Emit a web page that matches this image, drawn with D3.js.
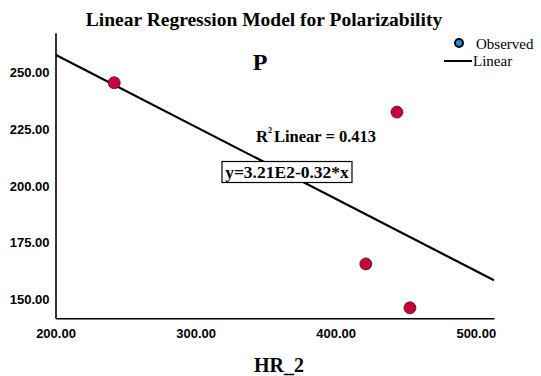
<!DOCTYPE html>
<html>
<head>
<meta charset="utf-8">
<script src="https://cdn.jsdelivr.net/npm/d3@7"></script>
<style>
  body { margin: 0; background: #fff; }
  svg { display: block; }
</style>
</head>
<body>
<div id="chart"></div>
<script>
// observed values (HR_2 vs P)
var hrValues = [241.9, 443.7, 421.5, 453.0];
var pValues = [245.3, 232.4, 165.7, 146.4];
var xTicks = [200, 300, 400, 500];
var yTicks = [150, 175, 200, 225, 250];
var rSquared = "0.413";
var equation = "y=3.21E2-0.32*x";

var width = 541, height = 376;
var svg = d3.select('#chart').append('svg')
    .attr('width', width)
    .attr('height', height);

var x = d3.scaleLinear().domain([200, 513]).range([55.5, 494]);
var y = d3.scaleLinear().domain([141.8, 267.3]).range([318.3, 32.7]);

// least squares fit, like spss does
var mx = d3.mean(hrValues), my = d3.mean(pValues);
var sxy = 0, sxx = 0;
for (var i = 0; i < hrValues.length; i++) {
    sxy += (hrValues[i] - mx) * (pValues[i] - my);
    sxx += (hrValues[i] - mx) * (hrValues[i] - mx);
}
var slope = sxy / sxx;
var intercept = my - slope * mx;

var serif = '"Liberation Serif", "Times New Roman", serif';

// title
svg.append('text')
    .attr('x', 264).attr('y', 26)
    .attr('text-anchor', 'middle')
    .style('font-family', serif)
    .style('font-weight', 'bold')
    .style('font-size', '19.5px')
    .text('Linear Regression Model for Polarizability');

// axes
var xAxis = d3.axisBottom(x).tickValues(xTicks).tickSize(0).tickPadding(10)
    .tickFormat(d3.format('.2f'));
var yAxis = d3.axisLeft(y).tickValues(yTicks).tickSize(0).tickPadding(6)
    .tickFormat(d3.format('.2f'));

var gx = svg.append('g').attr('transform', 'translate(0,' + y.range()[0] + ')').call(xAxis);
var gy = svg.append('g').attr('transform', 'translate(' + x.range()[0] + ',0)').call(yAxis);

[gx, gy].forEach(function(g){
    g.select('.domain').attr('stroke', '#000').attr('stroke-width', 1.6);
    g.selectAll('text')
        .style('font-family', '"Liberation Sans", Arial, sans-serif')
        .style('font-weight', 'bold')
        .style('font-size', '13px')
        .attr('fill', '#000');
});

// clip for fit line
svg.append('clipPath').attr('id', 'plot')
    .append('rect')
    .attr('x', x.range()[0]).attr('y', y.range()[1])
    .attr('width', x.range()[1] - x.range()[0])
    .attr('height', y.range()[0] - y.range()[1]);

var xd = x.domain();
svg.append('line')
    .attr('clip-path', 'url(#plot)')
    .attr('x1', x(xd[0])).attr('y1', y(intercept + slope * xd[0]))
    .attr('x2', x(xd[1])).attr('y2', y(intercept + slope * xd[1]))
    .attr('stroke', '#000')
    .attr('stroke-width', 2.2);

// points
svg.selectAll('circle.obs')
    .data(hrValues)
    .enter().append('circle')
    .attr('class', 'obs')
    .attr('cx', function(d){ return x(d); })
    .attr('cy', function(d, i){ return y(pValues[i]); })
    .attr('r', 6)
    .attr('fill', '#c8003a')
    .attr('stroke', '#3a1a1a')
    .attr('stroke-width', 0.8);

// P label
svg.append('text')
    .attr('x', 260).attr('y', 70)
    .attr('text-anchor', 'middle')
    .style('font-family', serif)
    .style('font-weight', 'bold')
    .style('font-size', '24px')
    .text('P');

// R squared
var rt = svg.append('text')
    .attr('x', 256).attr('y', 142)
    .style('font-family', serif)
    .style('font-weight', 'bold')
    .style('font-size', '16.5px');
rt.append('tspan').text('R');
rt.append('tspan').attr('dy', -9).style('font-size', '8px').text('2');
rt.append('tspan').attr('dy', 9).attr('dx', 2).text('Linear = ' + rSquared);

// equation box
svg.append('rect')
    .attr('x', 222).attr('y', 161.5)
    .attr('width', 130).attr('height', 21)
    .attr('fill', '#fff')
    .attr('stroke', '#000')
    .attr('stroke-width', 1.2);
svg.append('text')
    .attr('x', 287).attr('y', 178)
    .attr('text-anchor', 'middle')
    .style('font-family', serif)
    .style('font-weight', 'bold')
    .style('font-size', '17.5px')
    .text(equation);

// legend
svg.append('circle')
    .attr('cx', 459).attr('cy', 43).attr('r', 4)
    .attr('fill', '#1e90e0')
    .attr('stroke', '#000')
    .attr('stroke-width', 2);
svg.append('text')
    .attr('x', 476).attr('y', 48.5)
    .style('font-family', serif)
    .style('font-size', '15px')
    .text('Observed');
svg.append('line')
    .attr('x1', 444).attr('x2', 472)
    .attr('y1', 61).attr('y2', 61)
    .attr('stroke', '#000').attr('stroke-width', 2);
svg.append('text')
    .attr('x', 473).attr('y', 66)
    .style('font-family', serif)
    .style('font-size', '15px')
    .text('Linear');

// x axis title
svg.append('text')
    .attr('x', 279).attr('y', 372)
    .attr('text-anchor', 'middle')
    .style('font-family', serif)
    .style('font-weight', 'bold')
    .style('font-size', '20px')
    .text('HR_2');
</script>
</body>
</html>
